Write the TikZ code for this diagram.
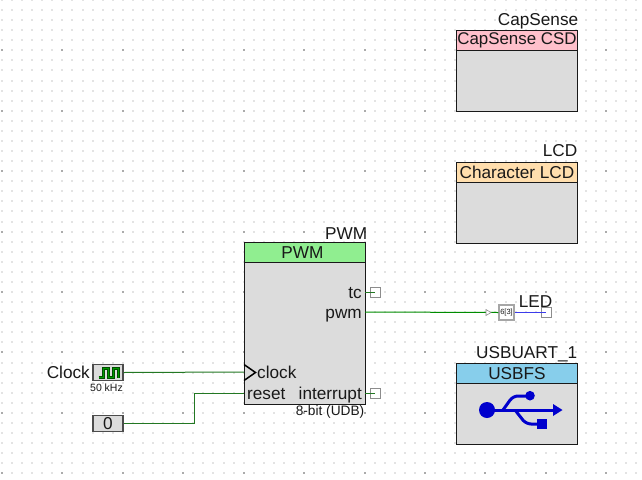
\documentclass[tikz,border=0pt]{standalone}
\usepackage{fontspec}
\setmainfont{Liberation Sans}
\usetikzlibrary{positioning, arrows.meta, calc, backgrounds}
\definecolor{blockgray}{RGB}{220,220,220}
\definecolor{headgreen}{RGB}{144,238,144}
\definecolor{headpink}{RGB}{255,192,203}
\definecolor{headtan}{RGB}{255,222,173}
\definecolor{headblue}{RGB}{135,206,235}
\definecolor{wiregreen}{RGB}{35,120,35}
\definecolor{wireblue}{RGB}{60,60,235}
\definecolor{usbblue}{RGB}{0,0,205}

\begin{document}
\begin{tikzpicture}[
  x=1pt, y=-1pt,
  every node/.style={font=\fontsize{17.2}{19}\selectfont, inner sep=0pt, text=black!90},
  block/.style={
    draw=black!90, line width=1.9pt, fill=blockgray, anchor=north west,
    minimum width=121pt
  },
  headbar/.style={
    draw=black!90, line width=1.9pt, anchor=north west,
    minimum width=121pt, minimum height=20pt
  },
  title/.style={anchor=south east},
  port/.style={font=\fontsize{17.2}{19}\selectfont},
  pinbox/.style={draw=black!45, fill=white, line width=0.7pt, minimum width=10pt, minimum height=10pt},
  srcbox/.style={draw=black!70, line width=1.2pt, fill=blockgray, minimum width=30pt, minimum height=16.5pt},
  wire/.style={color=wiregreen, line width=1pt},
]
\useasboundingbox (0,0) rectangle (642,479);
\fill[white] (0,0) rectangle (642,479);

% Grid
\foreach \i in {0,...,63} {
  \foreach \j in {0,...,47} {
    \pgfmathsetmacro{\dotx}{2+10.07*\i}
    \pgfmathsetmacro{\doty}{10.07*\j}
    \pgfmathtruncatemacro{\major}{(mod(\i,6)==0 && mod(\j,6)==5) ? 1 : 0}
    \ifnum\major=1
      \fill[black!33] (\dotx-1,\doty-1) rectangle (\dotx+1,\doty+1);
    \else
      \fill[black!11] (\dotx-1,\doty-1) rectangle (\dotx+1,\doty+1);
    \fi
  }
}

% Blocks
\node[block, minimum height=162pt] (pwmblock) at (243.5,241.5) {};
\node[headbar, fill=headgreen] (pwmhead) at (243.5,241.5) {PWM\hspace*{5pt}};
\node[title, above=2pt of pwmhead.north east, anchor=south east, xshift=1pt] (pwmname) {PWM};

\node[block, minimum height=81pt] (csdblock) at (455.5,29.5) {};
\node[headbar, fill=headpink, font=\fontsize{16.9}{19}\selectfont] (csdhead) at (455.5,29.5) {CapSense CSD};
\node[title, above=0pt of csdhead.north east, anchor=south east, xshift=0pt] (csdname) {CapSense};

\node[block, minimum height=81pt] (lcdblock) at (455.5,161.5) {};
\node[headbar, fill=headtan] (lcdhead) at (455.5,161.5) {Character LCD};
\node[title, above=5pt of lcdhead.north east, anchor=south east, xshift=-1pt] (lcdname) {LCD};

\node[block, minimum height=81pt] (usbblock) at (455.5,362.5) {};
\node[headbar, fill=headblue] (usbhead) at (455.5,362.5) {USBFS};
\node[title, above=0pt of usbhead.north east, anchor=south east, xshift=-1pt] (usbname) {USBUART\_1};

% Ports
\node[port, anchor=base east] (tcport) at (362,298) {tc};
\node[port, anchor=base east] (pwmport) at (362,318) {pwm};
\node[port, anchor=base west] (clockport) at (257,378) {clock};
\node[port, anchor=base west] (resetport) at (247,399) {reset};
\node[port, anchor=base east] (intport) at (362,399) {interrupt};
\node[anchor=east, font=\fontsize{13.7}{15}\selectfont] (bitnote) at (364.5,412) {8-bit (UDB)};
\coordinate (tcout) at (365,292);
\coordinate (pwmout) at (365,312);
\coordinate (intout) at (365,393);
\coordinate (clockin) at (244,372);
\coordinate (resetin) at (244,393);

% Sources
\node[srcbox] (clocksrc) at (108,372.5) {};
\node[anchor=east] (clockname) at (90,372.5) {Clock};
\node[below=2.5pt of clocksrc, xshift=-1.5pt, font=\fontsize{10.5}{12}\selectfont] (clockfreq) {50 kHz};
\node[srcbox] (zerosrc) at (108,423.5) {0};
\coordinate (bendtop) at (194,393);

% Output pins
\node[pinbox] (tcpin) at (375,292) {};
\node[pinbox] (intpin) at (375,393) {};
\node[draw=black!35, fill=white, line width=1.3pt, minimum width=15pt, minimum height=15pt,
  font=\fontsize{7.5}{8}\selectfont] (sigbox) at (506.5,312.5) {6[3]};
\node[pinbox] (ledpin) at (546,312.5) {};
\node[anchor=base] (ledname) at (535.5,307) {LED};

% Wires
\draw[wire] (tcout) -- (tcpin.center);
\draw[wire] (intout) -- (intpin.center);
\draw[wire, color=green!55!black] (pwmout) -- (sigbox.west);
\draw[wire] (clocksrc.east) -- (clockin);
\draw[wire] (zerosrc.east) -- (zerosrc.east -| bendtop) -- (bendtop) -- (resetin);
\draw[color=wireblue, line width=1pt] (sigbox.east) -- (ledpin.center);
\draw[black!45, fill=white, line width=0.6pt] (486,309.5) -- (491,312.5) -- (486,315.5) -- cycle;

% Clock marker
\draw[black, line width=1.5pt] (244,364.5) -- (255.5,372.5) -- (244,380.5);
\draw[green!30!black, line width=3pt] (98.5,377.5) -- (103,377.5) -- (103,368.5) -- (108,368.5)
  -- (108,377.5) -- (113.5,377.5) -- (113.5,368.5) -- (118.5,368.5) -- (118.5,377.5);
\draw[green!60!black, line width=1pt] (98.5,377.5) -- (103,377.5) -- (103,368.5) -- (108,368.5)
  -- (108,377.5) -- (113.5,377.5) -- (113.5,368.5) -- (118.5,368.5) -- (118.5,377.5);

% USB symbol
\fill[usbblue] (487,410) circle (8);
\draw[usbblue, line width=3pt] (487,410) -- (555,410);
\fill[usbblue] (553,404) -- (562.5,410) -- (553,416) -- cycle;
\draw[usbblue, line width=3pt, rounded corners=5pt] (503,410) -- (513,396) -- (530,396);
\fill[usbblue] (530,395.7) circle (4.8);
\draw[usbblue, line width=3pt, rounded corners=5pt] (515,410) -- (526,424) -- (540,424);
\fill[usbblue] (537.3,419.3) rectangle (546.7,429);

\end{tikzpicture}
\end{document}
